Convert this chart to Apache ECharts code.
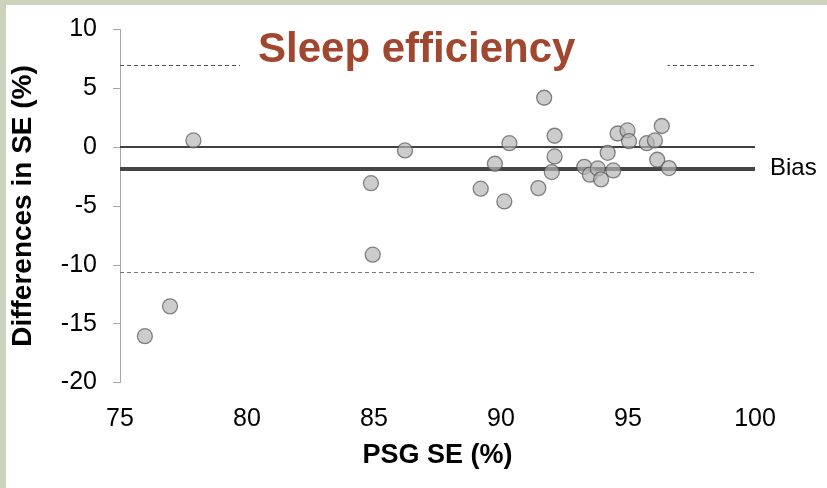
<!DOCTYPE html>
<html>
<head>
<meta charset="utf-8">
<script src="https://cdn.jsdelivr.net/npm/echarts@6/dist/echarts.min.js"></script>
<style>
  html, body { margin: 0; padding: 0; background: #fff; }
  #chart { width: 827px; height: 488px; }
</style>
</head>
<body>
<div id="chart"></div>
<script>
// PSG SE (x) vs difference in SE (y)
var psgSE = [75.98, 76.97, 77.89, 84.88, 84.95, 86.22, 89.2, 89.76, 90.13, 90.33,
  91.47, 91.7, 92.0, 92.11, 92.11, 93.28, 93.5, 93.81, 93.94, 94.2,
  94.42, 94.59, 94.98, 95.04, 95.74, 96.06, 96.15, 96.33, 96.61]
var diffSE = [-16.06, -13.53, 0.57, -3.06, -9.14, -0.28, -3.53, -1.41, -4.61, 0.34,
  -3.48, 4.2, -2.12, 0.97, -0.79, -1.67, -2.34, -1.81, -2.74, -0.48,
  -1.98, 1.16, 1.42, 0.51, 0.34, 0.57, -1.07, 1.8, -1.78]

var bias = -1.8
var upperLoA = 7.0
var lowerLoA = -10.6

var xTicks = [75, 80, 85, 90, 95, 100]
var yTicks = [-20, -15, -10, -5, 0, 5, 10]

var font = 'Liberation Sans, Arial, sans-serif'

var points = psgSE.map(function (x, i) {
  return [x, diffSE[i]]
})

var myChart = echarts.init(document.getElementById('chart'))

var option = {
  animation: false,
  backgroundColor: '#fff',
  textStyle: { fontFamily: font },
  graphic: [
    // frame strips of the slide
    { type: 'rect', left: 0, top: 0, shape: { width: 827, height: 5 }, style: { fill: '#cdd2bc' }, z: 100 },
    { type: 'rect', left: 0, top: 0, shape: { width: 6, height: 488 }, style: { fill: '#cdd2bc' }, z: 100 },
  ],
  title: {
    text: 'Sleep efficiency',
    left: 240,
    top: 25,
    padding: [4, 92, 6, 18],
    backgroundColor: '#fff',
    textStyle: {
      color: '#a1472f',
      fontSize: 42,
      fontWeight: 'bold',
      fontFamily: font,
    },
  },
  grid: {
    left: 120,
    right: 72,
    top: 29.5,
    bottom: 105.5,
  },
  xAxis: {
    type: 'value',
    min: xTicks[0],
    max: xTicks[xTicks.length - 1],
    interval: 5,
    name: 'PSG SE (%)',
    nameLocation: 'middle',
    nameGap: 60,
    nameTextStyle: { color: '#000', fontSize: 27, fontWeight: 'bold', fontFamily: font },
    axisLine: { show: false },
    axisTick: { show: false },
    splitLine: { show: false },
    axisLabel: { color: '#000', fontSize: 25, margin: 24, fontFamily: font },
  },
  yAxis: {
    type: 'value',
    min: yTicks[0],
    max: yTicks[yTicks.length - 1],
    interval: 5,
    name: 'Differences in SE (%)',
    nameLocation: 'middle',
    nameGap: 83,
    nameTextStyle: { color: '#000', fontSize: 28, fontWeight: 'bold', fontFamily: font },
    axisLine: { show: true, lineStyle: { color: '#a6a6a6', width: 1 } },
    axisTick: { show: true, length: 7, lineStyle: { color: '#a6a6a6' } },
    splitLine: { show: false },
    axisLabel: { color: '#000', fontSize: 25, margin: 23, fontFamily: font },
  },
  series: [
    {
      type: 'scatter',
      data: points,
      symbolSize: 15,
      z: 3,
      itemStyle: {
        color: 'rgba(180,180,180,0.85)',
        borderColor: 'rgba(80,80,80,0.85)',
        borderWidth: 1.3,
      },
      markLine: {
        silent: true,
        symbol: 'none',
        z: 2,
        label: { show: false },
        data: [
          { yAxis: 0, lineStyle: { color: '#404040', width: 2, type: 'solid' } },
          {
            yAxis: bias,
            lineStyle: { color: '#454545', width: 4, type: 'solid' },
            label: {
              show: true,
              position: 'end',
              distance: 15,
              formatter: 'Bias',
              color: '#000',
              fontSize: 24,
              fontFamily: font,
            },
          },
          { yAxis: upperLoA, lineStyle: { color: '#555', width: 1, type: [4, 3] } },
          { yAxis: lowerLoA, lineStyle: { color: '#777', width: 1, type: [4, 3] } },
        ],
      },
    },
  ],
}

myChart.setOption(option)
</script>
</body>
</html>
